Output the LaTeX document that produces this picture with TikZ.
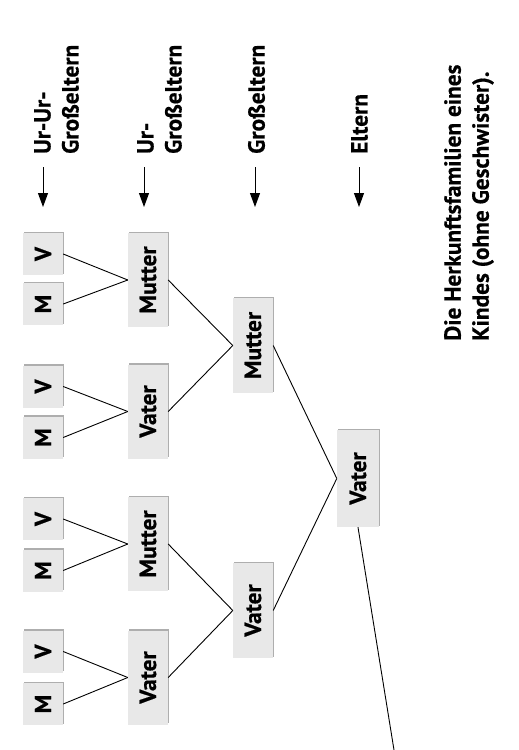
\documentclass[tikz,border=0pt]{standalone}
\usepackage{fontspec}
\setmainfont{PT Sans}[BoldFeatures={FakeBold=0.6}]
\usetikzlibrary{shadows,arrows.meta}
\definecolor{boxgray}{HTML}{E8E8E8}
\begin{document}
\begin{tikzpicture}[x=1pt,y=-1pt,
  famtext/.style={font=\fontsize{23.3}{28}\selectfont\bfseries},
  pbox/.style={famtext,draw=none,fill=boxgray,inner sep=0pt,
    drop shadow={shadow xshift=1.2pt,shadow yshift=1.2pt,fill=black!45,opacity=0.7}},
  small/.style={pbox,minimum width=40pt,minimum height=42pt},
  big/.style={pbox,minimum width=40pt,minimum height=94pt},
  hdr/.style={famtext,rotate=90,anchor=west,align=left,inner sep=0pt},
  gen/.style={-{Triangle[width=10pt,length=14pt]},line width=1pt},
  link/.style={line width=0.9pt}]
\useasboundingbox (0,0) rectangle (519,750);
\fill[white] (0,0) rectangle (519,750);
% header labels
\node[hdr] (h1) at (56.5,154) {Ur-Ur-\\Großeltern};
\node[hdr] (h2) at (159.5,154) {Ur-\\Großeltern};
\node[hdr] (h3) at (256.5,154) {Großeltern};
\node[hdr] (h4) at (359.5,154) {Eltern};
\node[hdr] (cap) at (469,341) {Die Herkunftsfamilien eines\\Kindes (ohne Geschwister).};
% generation arrows
\coordinate (a1s) at (43,167);  \coordinate (a1e) at (43,207);
\coordinate (a2s) at (144,167); \coordinate (a2e) at (144,207);
\coordinate (a3s) at (255,167); \coordinate (a3e) at (255,207);
\coordinate (a4s) at (359,167); \coordinate (a4e) at (359,207);
\draw[gen] (a1s) -- (a1e);
\draw[gen] (a2s) -- (a2e);
\draw[gen] (a3s) -- (a3e);
\draw[gen] (a4s) -- (a4e);
% great-great-grandparents
\node[small] (v1) at (43,254)   {\rotatebox{90}{V}};
\node[small] (m1) at (43,304)   {\rotatebox{90}{M}};
\node[small] (v2) at (43,386.5) {\rotatebox{90}{V}};
\node[small] (m2) at (43,437.5) {\rotatebox{90}{M}};
\node[small] (v3) at (43,519)   {\rotatebox{90}{V}};
\node[small] (m3) at (43,570.5) {\rotatebox{90}{M}};
\node[small] (v4) at (43,651.5) {\rotatebox{90}{V}};
\node[small] (m4) at (43,704)   {\rotatebox{90}{M}};
% great-grandparents
\node[big] (u1) at (148,280)   {\rotatebox{90}{Mutter}};
\node[big] (u2) at (148,411.5) {\rotatebox{90}{Vater}};
\node[big] (u3) at (148,544)   {\rotatebox{90}{Mutter}};
\node[big] (u4) at (148,677.5) {\rotatebox{90}{Vater}};
% grandparents
\node[big,minimum height=95pt] (g1) at (253,345.5) {\rotatebox{90}{Mutter}};
\node[big,minimum height=95pt] (g2) at (253,610.5) {\rotatebox{90}{Vater}};
% parent
\node[big,minimum width=42pt,minimum height=97pt] (p) at (358,478.5) {\rotatebox{90}{Vater}};
\coordinate (out) at (394,750);
% connectors
\draw[link] (v1.east) -- (u1.west);
\draw[link] (m1.east) -- (u1.west);
\draw[link] (v2.east) -- (u2.west);
\draw[link] (m2.east) -- (u2.west);
\draw[link] (v3.east) -- (u3.west);
\draw[link] (m3.east) -- (u3.west);
\draw[link] (v4.east) -- (u4.west);
\draw[link] (m4.east) -- (u4.west);
\draw[link] (u1.east) -- (g1.west);
\draw[link] (u2.east) -- (g1.west);
\draw[link] (u3.east) -- (g2.west);
\draw[link] (u4.east) -- (g2.west);
\draw[link] (g1.east) -- (p.west);
\draw[link] (g2.east) -- (p.west);
\draw[link] (p.south) -- (out);
\end{tikzpicture}
\end{document}
